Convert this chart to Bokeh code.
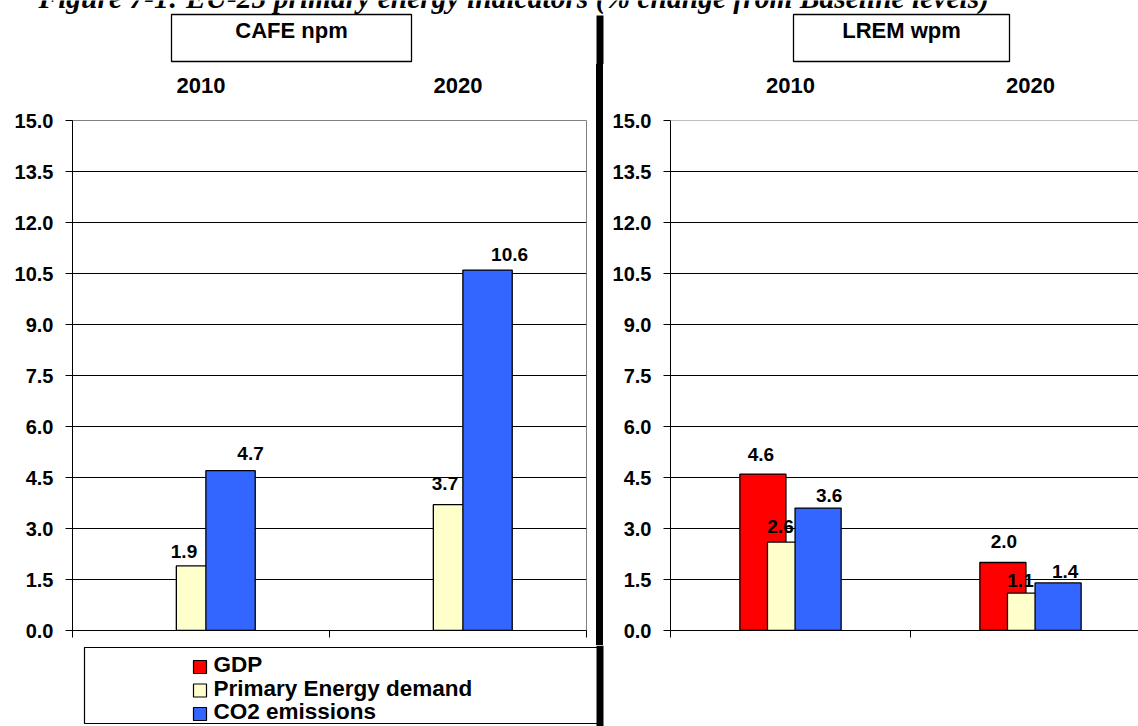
import math

from bokeh.plotting import figure
from bokeh.models import (Range1d, FixedTicker, LinearAxis, Grid, Span, Spacer,
                          PrintfTickFormatter, ColumnDataSource)
from bokeh.layouts import row, column
from bokeh.embed import file_html
from bokeh.resources import INLINE
from bokeh.core.properties import value

# ---- data -------------------------------------------------------------
years = ["2010", "2020"]
series_names = ["GDP", "Primary Energy demand", "CO2 emissions"]
series_colors = ["#FF0000", "#FFFFCC", "#3366FF"]

cafe_gdp = [math.nan, math.nan]
cafe_energy = [1.9, 3.7]
cafe_co2 = [4.7, 10.6]

lrem_gdp = [4.6, 2.0]
lrem_energy = [2.6, 1.1]
lrem_co2 = [3.6, 1.4]

y_ticks = [0.0, 1.5, 3.0, 4.5, 6.0, 7.5, 9.0, 10.5, 12.0, 13.5, 15.0]

title_text = "Figure 7-1: EU-25 primary energy indicators (% change from Baseline levels)"
panel_names = ["CAFE npm", "LREM wpm"]

# ---- styling ----------------------------------------------------------
SANS = "Liberation Sans"
SERIF = "Liberation Serif"
W, H = 1138, 726
HEAD_H = 64          # strip holding the caption and the panel names
FOOT_TOP = 645       # strip holding the legend
DIV_L, DIV_R = 596, 603   # thick divider between the panels
FRAME_TOP, FRAME_BOTTOM = 120, 630
LEFT_X0, LEFT_X1 = 72, 586
RIGHT_X0, CAT_W_RIGHT = 670, 240
BAR_W = 0.192        # bar width as a fraction of one category
BAR_STEP = 0.115     # shift between neighbouring series inside a group
BASE_FIX = 0.34      # baseline correction of the text glyphs, in em

# value-label nudges (px) per series: horizontal shift, gap above the bar top
cafe_label_dx = [[0, 0], [-17, -13], [20, 22]]
cafe_label_gap = [[10, 10], [8, 15], [11, 9]]
lrem_label_dx = [[-2, 1], [-10, -10], [11, 7]]
lrem_label_gap = [[13, 15], [9, 6], [6, 5]]


def blank(width, height):
    """A figure whose frame is the whole canvas, in pixel units with y pointing down."""
    f = figure(width=width, height=height, output_backend="svg", toolbar_location=None,
               x_range=Range1d(0, width), y_range=Range1d(height, 0),
               x_axis_location=None, y_axis_location=None, min_border=0,
               outline_line_color=None, background_fill_color="white",
               border_fill_color="white")
    f.xgrid.visible = False
    f.ygrid.visible = False
    return f


def build_panel(width, border_left, border_right, x_end, values, label_dx, label_gap):
    height = FOOT_TOP - HEAD_H
    p = figure(width=width, height=height, output_backend="svg", toolbar_location=None,
               x_range=Range1d(0, x_end), y_range=Range1d(0, 15),
               x_axis_location=None, y_axis_location=None,
               min_border_left=border_left, min_border_right=border_right,
               min_border_top=FRAME_TOP - HEAD_H,
               min_border_bottom=FOOT_TOP - FRAME_BOTTOM,
               background_fill_color="white", border_fill_alpha=0)
    p.xgrid.visible = False
    p.ygrid.visible = False

    ytick = FixedTicker(ticks=y_ticks)
    p.add_layout(Grid(dimension=1, ticker=ytick, grid_line_color="black",
                      grid_line_width=1))

    yaxis = LinearAxis(ticker=ytick, formatter=PrintfTickFormatter(format="%.1f"),
                       axis_line_color="black", axis_line_width=1,
                       major_tick_line_color="black", major_tick_out=7, major_tick_in=0,
                       minor_tick_line_color=None, major_label_standoff=12,
                       major_label_text_font=SANS, major_label_text_font_style="bold",
                       major_label_text_font_size="20px", major_label_text_color="black")
    p.add_layout(yaxis, "left")

    bounds = [i for i in range(len(years) + 1) if i <= x_end]
    xbottom = LinearAxis(ticker=FixedTicker(ticks=bounds),
                         major_label_overrides={i: "" for i in bounds},
                         major_label_text_font_size="1px", major_label_standoff=0,
                         axis_line_color="black", axis_line_width=1,
                         major_tick_line_color="black", major_tick_out=7, major_tick_in=0,
                         minor_tick_line_color=None)
    p.add_layout(xbottom, "below")

    centers = [i + 0.5 for i in range(len(years))]
    xtop = LinearAxis(ticker=FixedTicker(ticks=centers),
                      major_label_overrides={c: y for c, y in zip(centers, years)},
                      axis_line_color=None, major_tick_line_color=None,
                      minor_tick_line_color=None, major_label_standoff=22,
                      major_label_text_font=SANS, major_label_text_font_style="bold",
                      major_label_text_font_size="22px", major_label_text_color="black")
    p.add_layout(xtop, "above")

    for k, (vals, color) in enumerate(zip(values, series_colors)):
        xs = [c + (k - 1) * BAR_STEP for c in centers]
        p.vbar(x=xs, top=vals, bottom=0, width=BAR_W,
               fill_color=color, line_color="black", line_width=1.3)
    for k, vals in enumerate(values):
        xs = [c + (k - 1) * BAR_STEP for c in centers]
        src = ColumnDataSource(dict(x=xs, y=[0 if math.isnan(v) else v for v in vals],
                                    label=["" if math.isnan(v) else f"{v:.1f}" for v in vals],
                                    dx=label_dx[k],
                                    dy=[-(g + BASE_FIX * 19) for g in label_gap[k]]))
        p.text(x="x", y="y", text="label", source=src, x_offset="dx", y_offset="dy",
               text_align="center", text_baseline="alphabetic",
               text_font=value(SANS), text_font_style="bold", text_font_size="19px",
               text_color="black")
    return p


# ---- caption strip: figure caption, panel name boxes, top of the divider ----
head = blank(W, HEAD_H)
head.text(x=[38], y=[8 - BASE_FIX * 29.5], text=[title_text], text_font=value(SERIF),
          text_font_style="bold italic", text_font_size="29.5px",
          text_baseline="alphabetic", text_align="left", text_color="black")
head.quad(left=[171, 793], right=[411, 1009], top=[14, 14], bottom=[61, 61],
          fill_color="white", line_color="black", line_width=1.3)
head.text(x=[291, 901], y=[37 - BASE_FIX * 22] * 2, text=panel_names, text_font=value(SANS),
          text_font_style="bold", text_font_size="22px", text_align="center",
          text_baseline="alphabetic", text_color="black")
head.quad(left=[DIV_L], right=[DIV_R], top=[15], bottom=[HEAD_H],
          fill_color="black", line_color=None)

# ---- the two bar panels ----
left = build_panel(DIV_L, LEFT_X0, DIV_L - LEFT_X1, 2,
                   [cafe_gdp, cafe_energy, cafe_co2], cafe_label_dx, cafe_label_gap)
left.outline_line_color = "#808080"
left.outline_line_width = 1

right = build_panel(W - DIV_R, RIGHT_X0 - DIV_R, 0, (W - RIGHT_X0) / CAT_W_RIGHT,
                    [lrem_gdp, lrem_energy, lrem_co2], lrem_label_dx, lrem_label_gap)
right.outline_line_color = None
right.add_layout(Span(location=15, dimension="width", line_color="#808080", line_width=1))

# ---- thick divider between the panels ----
divider = Spacer(width=DIV_R - DIV_L, height=FOOT_TOP - HEAD_H,
                 styles={"background-color": "black"})

# ---- legend strip along the bottom ----
foot = blank(W, H - FOOT_TOP)
foot.quad(left=[84], right=[DIV_L + 3], top=[647 - FOOT_TOP], bottom=[723 - FOOT_TOP],
          fill_color="white", line_color="black", line_width=1.2)
foot.quad(left=[DIV_L], right=[DIV_R], top=[0], bottom=[H - FOOT_TOP],
          fill_color="black", line_color=None)
rows = list(range(len(series_names)))
sq_top = [15 + 23.5 * i for i in rows]
foot.quad(left=[193] * len(rows), right=[206] * len(rows),
          top=sq_top, bottom=[t + 13 for t in sq_top],
          fill_color=series_colors, line_color="black", line_width=1.2)
foot.text(x=[213] * len(rows), y=[t + 11.7 - BASE_FIX * 22.5 for t in sq_top],
          text=series_names, text_font=value(SANS), text_font_style="bold",
          text_font_size="22.5px", text_align="left", text_baseline="alphabetic",
          text_color="black")

layout = column(head, row(left, divider, right, spacing=0), foot, spacing=0,
                styles={"background-color": "white"})
open("out.html", "w").write(file_html(layout, INLINE))
